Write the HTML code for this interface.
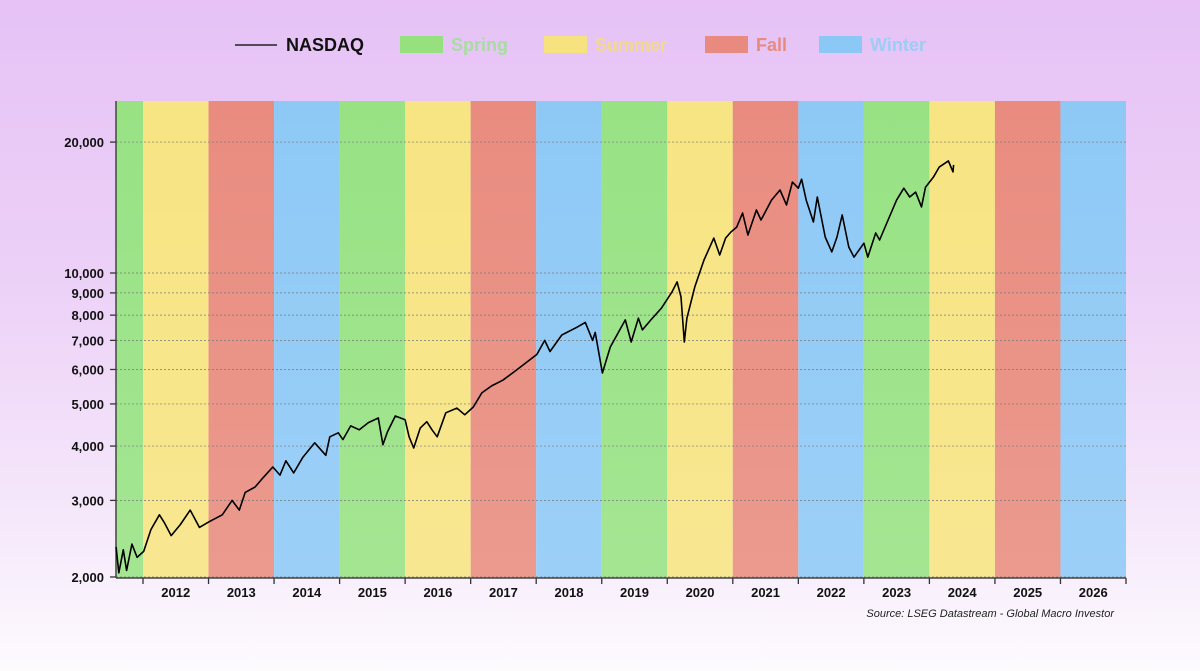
<!DOCTYPE html>
<html><head><meta charset="utf-8"><style>
html,body{margin:0;padding:0}
body{width:1200px;height:671px;overflow:hidden;background:linear-gradient(180deg,#e6c2f6 0%,#ecd0f7 40%,#f6eafb 80%,#fdfbfe 100%);font-family:"Liberation Sans",sans-serif}
svg{position:absolute;left:0;top:0}
</style></head><body>
<svg id="chart" width="1200" height="671">
<defs>
<linearGradient id="fade" x1="0" y1="0" x2="0" y2="1"><stop offset="0" stop-color="#fff" stop-opacity="0"/><stop offset="1" stop-color="#fff" stop-opacity="0.12"/></linearGradient>
</defs>
<g id="bands"></g>
<rect x="116" y="101" width="1010" height="477" fill="url(#fade)"/>
<g id="grid"></g>
<g id="axes"></g>
<path id="line" fill="none" stroke="#000" stroke-width="1.6" stroke-linejoin="round"/>
<g id="legend">
<line x1="235" y1="45" x2="277" y2="45" stroke="#222" stroke-width="1.5"/>
<text x="286" y="51" font-size="18" font-weight="bold" fill="#111">NASDAQ</text>
<rect x="400" y="36" width="43" height="17" fill="#97e07f"/>
<text x="451" y="51" font-size="18" font-weight="bold" fill="#a8dca0">Spring</text>
<rect x="544" y="36" width="43" height="17" fill="#f6e27e"/>
<text x="595" y="51" font-size="18" font-weight="bold" fill="#f2d98a">Summer</text>
<rect x="705" y="36" width="43" height="17" fill="#e98a80"/>
<text x="756" y="51" font-size="18" font-weight="bold" fill="#e78a80">Fall</text>
<rect x="819" y="36" width="43" height="17" fill="#8cc8f6"/>
<text x="870" y="51" font-size="18" font-weight="bold" fill="#9ccdf5">Winter</text>
</g>
<text x="1114" y="617" font-size="11" font-style="italic" text-anchor="end" fill="#222">Source: LSEG Datastream - Global Macro Investor</text>
</svg>
<script>
const yearLabels=[2012,2013,2014,2015,2016,2017,2018,2019,2020,2021,2022,2023,2024,2025,2026];
const seasons=["Spring","Summer","Fall","Winter"];
const yTicks=[20000,10000,9000,8000,7000,6000,5000,4000,3000,2000];
const dates=[2011.59,2011.63,2011.70,2011.75,2011.83,2011.91,2012.01,2012.12,2012.25,2012.33,2012.43,2012.57,2012.72,2012.86,2013.01,2013.21,2013.36,2013.47,2013.56,2013.71,2013.83,2013.98,2014.09,2014.18,2014.30,2014.44,2014.62,2014.79,2014.85,2014.98,2015.05,2015.17,2015.30,2015.44,2015.59,2015.66,2015.73,2015.85,2016.00,2016.06,2016.13,2016.23,2016.33,2016.41,2016.49,2016.62,2016.79,2016.91,2017.04,2017.17,2017.32,2017.49,2017.71,2018.01,2018.13,2018.21,2018.39,2018.62,2018.75,2018.86,2018.90,2019.01,2019.13,2019.36,2019.45,2019.56,2019.62,2019.75,2019.91,2020.07,2020.15,2020.21,2020.26,2020.30,2020.42,2020.56,2020.71,2020.80,2020.89,2020.97,2021.06,2021.15,2021.23,2021.36,2021.43,2021.59,2021.72,2021.82,2021.91,2022.00,2022.05,2022.12,2022.23,2022.29,2022.41,2022.51,2022.59,2022.67,2022.77,2022.85,2023.00,2023.06,2023.18,2023.24,2023.35,2023.50,2023.61,2023.70,2023.79,2023.88,2023.94,2024.06,2024.15,2024.29,2024.36,2024.37];
const values=[2344,2045,2310,2070,2380,2220,2290,2570,2780,2660,2490,2640,2850,2600,2680,2780,3000,2850,3130,3220,3380,3580,3430,3700,3470,3770,4070,3810,4200,4290,4140,4450,4360,4530,4640,4030,4310,4690,4600,4200,3960,4400,4550,4360,4200,4770,4890,4720,4920,5300,5500,5670,6000,6500,7000,6600,7200,7500,7700,7000,7300,5890,6760,7800,6940,7870,7400,7800,8300,9040,9540,8810,6940,7870,9290,10710,12030,11000,12030,12420,12750,13740,12230,13960,13240,14710,15520,14340,16180,15670,16430,14710,13100,14950,12100,11180,12100,13600,11470,10880,11710,10880,12360,11910,13030,14710,15670,14950,15350,14190,15750,16600,17520,18100,17080,17720];

const NS="http://www.w3.org/2000/svg";
const L=116,R=1126,T=101,B=578;
const tMin=2011.588,tMax=2027.0;
const xs=t=>L+(t-tMin)/(tMax-tMin)*(R-L);
const ys=v=>273-434.9*Math.log10(v/10000);
const colors={Spring:"#98e284",Summer:"#f7e482",Fall:"#e98c7f",Winter:"#8ec9f6"};
function mk(tag,attrs,parent){const e=document.createElementNS(NS,tag);for(const k in attrs)e.setAttribute(k,attrs[k]);parent.appendChild(e);return e;}
const bands=document.getElementById('bands'),grid=document.getElementById('grid'),axes=document.getElementById('axes');
let b0=mk('rect',{x:L,y:T,width:xs(2012)-L,height:B-T,fill:colors.Spring},bands);


yearLabels.forEach((yr,i)=>{
  const s=seasons[(i+1)%4];
  const x0=xs(yr),x1=Math.min(xs(yr+1),R);
  const r=mk('rect',{x:x0,y:T,width:x1-x0,height:B-T,fill:colors[s]},bands);
  
  
  const tx=mk('text',{x:(x0+x1)/2,y:597,'font-size':13,'font-weight':'bold','text-anchor':'middle',fill:'#111'},axes);
  tx.textContent=yr;
  
  
  const tk=mk('line',{x1:x0,y1:B,x2:x0,y2:B+6,stroke:'#333','stroke-width':1.3},axes);
  
  
});
mk('line',{x1:R,y1:B,x2:R,y2:B+6,stroke:'#333','stroke-width':1.3},axes);
yTicks.forEach(v=>{
  const y=ys(v);
  const g=mk('line',{x1:L,y1:y,x2:R,y2:y,stroke:'#777','stroke-width':0.7,'stroke-dasharray':'2,2'},grid);
  
  
  mk('line',{x1:L-6,y1:y,x2:L,y2:y,stroke:'#333','stroke-width':1.3},axes);
  const t=mk('text',{x:L-12,y:y+5,'font-size':13,'font-weight':'bold','text-anchor':'end',fill:'#111'},axes);
  t.textContent=v.toLocaleString('en-US');
  
  
});
const ya=mk('line',{x1:L,y1:T,x2:L,y2:B,stroke:'#444','stroke-width':1.5},axes);


const xa=mk('line',{x1:L,y1:B,x2:R,y2:B,stroke:'#444','stroke-width':1.5},axes);


document.getElementById('line').setAttribute('d',dates.map((d,i)=>(i?'L':'M')+xs(d).toFixed(1)+','+ys(values[i]).toFixed(1)).join(''));
</script>
</body></html>
